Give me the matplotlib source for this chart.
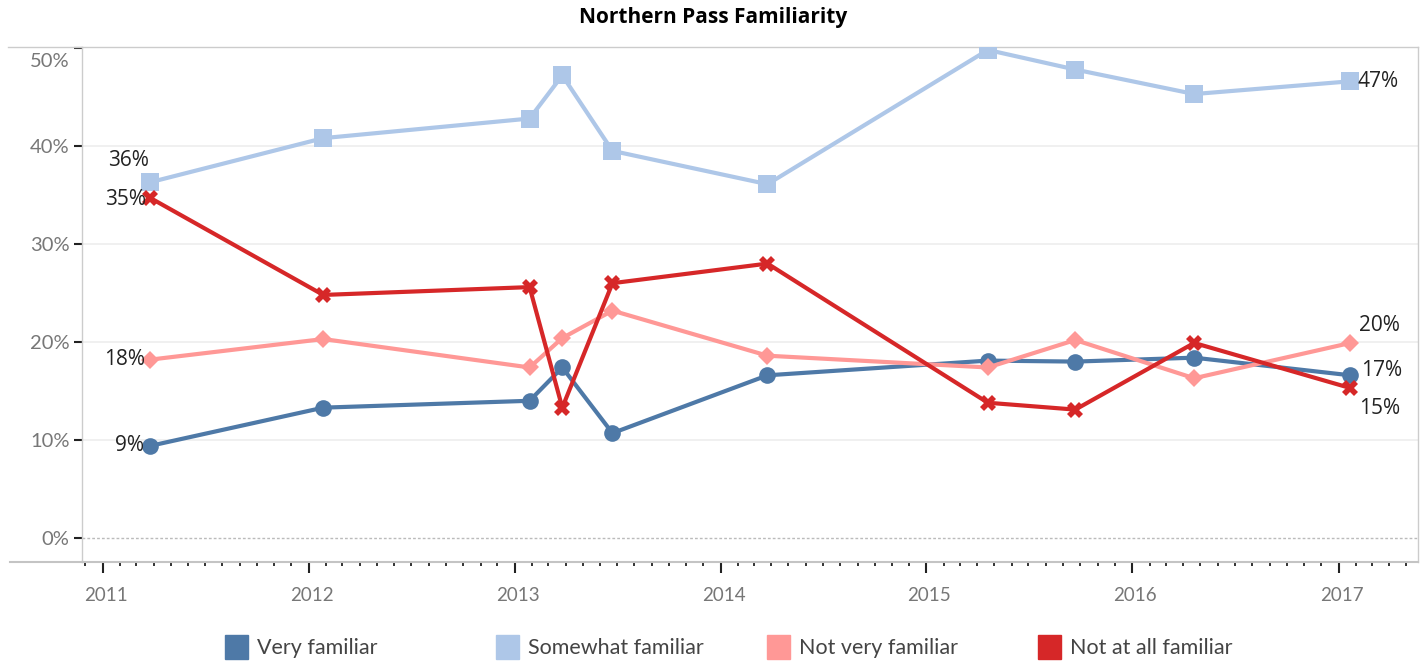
import matplotlib
matplotlib.use("Agg")
import matplotlib.pyplot as plt
import matplotlib.dates as mdates
import matplotlib.transforms as mtransforms
from matplotlib.lines import Line2D
from matplotlib.patches import Rectangle
import pandas as pd

# =====================
# Data
# =====================
poll_dates = ["2011-03-26", "2012-01-27", "2013-01-27", "2013-03-26", "2013-06-23",
              "2014-03-25", "2015-04-20", "2015-09-22", "2016-04-20", "2017-01-22"]

very_familiar = [9.4, 13.3, 14.0, 17.4, 10.7, 16.6, 18.1, 18.0, 18.4, 16.6]
somewhat_familiar = [36.3, 40.8, 42.8, 47.2, 39.5, 36.1, 49.8, 47.8, 45.3, 46.6]
not_very_familiar = [18.2, 20.3, 17.4, 20.4, 23.2, 18.6, 17.4, 20.2, 16.3, 19.9]
not_at_all_familiar = [34.7, 24.8, 25.6, 13.3, 26.0, 28.0, 13.8, 13.1, 19.9, 15.3]

series_names = ["Very familiar", "Somewhat familiar", "Not very familiar", "Not at all familiar"]
series_colors = ["#4e79a7", "#aec7e8", "#ff9896", "#d62728"]
series_markers = ["o", "s", "D", "X"]
series_msizes = [12, 13, 9, 11]

y_ticks = [0, 10, 20, 30, 40, 50]

dates = pd.to_datetime(poll_dates)
all_series = [very_familiar, somewhat_familiar, not_very_familiar, not_at_all_familiar]

# =====================
# Figure
# =====================
plt.rcParams['font.family'] = ['Lato', 'DejaVu Sans']

fig = plt.figure(figsize=(14.27, 6.61), dpi=100)
W, H = 1427, 661
ax = fig.add_axes([82 / W, 1 - 562 / H, (1418 - 82) / W, (562 - 47) / H])

for vals, name, col, mk, ms in zip(all_series, series_names, series_colors,
                                   series_markers, series_msizes):
    ax.plot(dates, vals, color=col, lw=3, marker=mk, markersize=ms,
            markeredgewidth=0, label=name, zorder=3)

# end labels
lab_font = dict(fontsize=15, color="#222222", family=["Open Sans", "DejaVu Sans"])
first, last = dates[0], dates[-1]
ax.annotate(f"{somewhat_familiar[0]:.0f}%", (first, somewhat_familiar[0]), xytext=(-22, 22),
            textcoords="offset pixels", ha="center", va="center", **lab_font)
ax.annotate(f"{not_at_all_familiar[0]:.0f}%", (first, not_at_all_familiar[0]), xytext=(-4, -2),
            textcoords="offset pixels", ha="right", va="center", **lab_font)
ax.annotate(f"{not_very_familiar[0]:.0f}%", (first, not_very_familiar[0]), xytext=(-5, 0),
            textcoords="offset pixels", ha="right", va="center", **lab_font)
ax.annotate(f"{very_familiar[0]:.0f}%", (first, very_familiar[0]), xytext=(-6, 0),
            textcoords="offset pixels", ha="right", va="center", **lab_font)
ax.annotate(f"{somewhat_familiar[-1]:.0f}%", (last, somewhat_familiar[-1]), xytext=(7, 0),
            textcoords="offset pixels", ha="left", va="center", **lab_font)
ax.annotate(f"{not_very_familiar[-1]:.0f}%", (last, not_very_familiar[-1]), xytext=(9, 17),
            textcoords="offset pixels", ha="left", va="center", **lab_font)
ax.annotate(f"{very_familiar[-1]:.0f}%", (last, very_familiar[-1]), xytext=(11, 5),
            textcoords="offset pixels", ha="left", va="center", **lab_font)
ax.annotate(f"{not_at_all_familiar[-1]:.0f}%", (last, not_at_all_familiar[-1]), xytext=(9, -20),
            textcoords="offset pixels", ha="left", va="center", **lab_font)

# axes limits / ticks
ax.set_ylim(-2.45, 50.1)
ax.set_xlim(pd.Timestamp("2010-11-25"), pd.Timestamp("2017-05-22"))
ax.set_yticks(y_ticks)
ax.set_yticklabels([f"{t}%" for t in y_ticks])
ax.xaxis.set_major_locator(mdates.YearLocator())
ax.xaxis.set_major_formatter(mdates.DateFormatter("%Y"))
ax.xaxis.set_minor_locator(mdates.MonthLocator())

ax.tick_params(axis="y", length=6, width=1.5, color="#222222", labelsize=14.5,
               labelcolor="#777777", pad=3)
ax.tick_params(axis="x", which="major", length=8, width=1.5, color="#222222",
               labelsize=13.5, labelcolor="#777777", pad=10)
ax.tick_params(axis="x", which="minor", length=3, width=1.3, color="#222222")
for lbl in ax.get_xticklabels():
    lbl.set_transform(lbl.get_transform() + mtransforms.ScaledTranslation(3 / 100, 0, fig.dpi_scale_trans))
top_lbl = ax.get_yticklabels()[-1]
top_lbl.set_va("top")
top_lbl.set_transform(top_lbl.get_transform() + mtransforms.ScaledTranslation(0, -5 / 100, fig.dpi_scale_trans))

# grid
for t in y_ticks[1:-1]:
    ax.axhline(t, color="#eeeeee", lw=1.2, zorder=0)
ax.axhline(0, color="#bbbbbb", lw=1, ls=(0, (2, 1.5)), zorder=1)

for side in ["top", "right", "left", "bottom"]:
    ax.spines[side].set_color("#cccccc")
    ax.spines[side].set_linewidth(1)
ax.spines["bottom"].set_color("#c4c4c4")
ax.spines["bottom"].set_linewidth(1.5)

# panel borders extending to the left
fig.add_artist(Line2D([8 / W, 82 / W], [1 - 47 / H, 1 - 47 / H], color="#cccccc", lw=1))
fig.add_artist(Line2D([10 / W, 82 / W], [1 - 562 / H, 1 - 562 / H], color="#c4c4c4", lw=1.5))

# title
fig.text(0.5, 1 - 17 / H, "Northern Pass Familiarity", ha="center", va="center",
         fontsize=15, fontweight="bold", family=["Open Sans", "DejaVu Sans"])

# legend with evenly spaced entries
for i, (name, col) in enumerate(zip(series_names, series_colors)):
    x0 = (225 + i * 271) / W
    fig.add_artist(Rectangle((x0, 1 - 659 / H), 23 / W, 24 / H, color=col,
                             transform=fig.transFigure))
    fig.text(x0 + 32 / W, 1 - 648 / H, name, ha="left", va="center",
             fontsize=15.5, color="#444444")

fig.savefig("out.png", dpi=100)
